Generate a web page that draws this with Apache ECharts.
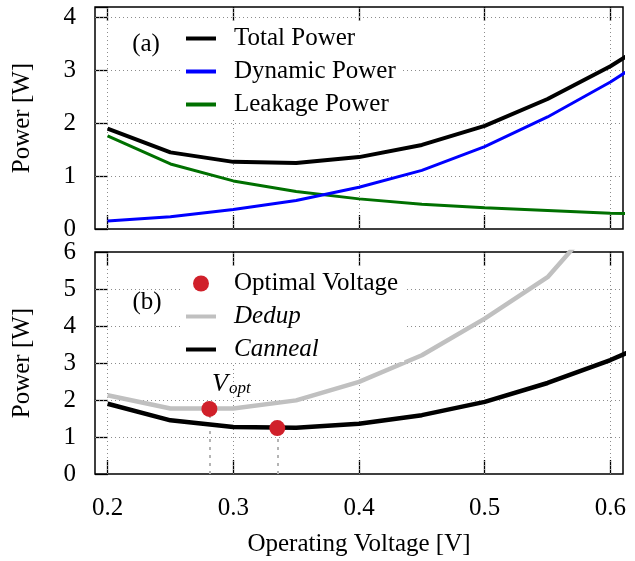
<!DOCTYPE html>
<html>
<head>
<meta charset="utf-8">
<script src="https://cdn.jsdelivr.net/npm/echarts@6/dist/echarts.min.js"></script>
<style>
  html, body { margin: 0; padding: 0; background: #fff; }
  #chart { width: 635px; height: 561px; }
</style>
</head>
<body>
<div id="chart"></div>
<script>
// Operating voltage samples [V]
const voltages = [0.2, 0.25, 0.3, 0.35, 0.4, 0.45, 0.5, 0.55, 0.6, 0.65];

// (a) power breakdown [W]
const totalPower   = [1.90, 1.45, 1.27, 1.25, 1.36, 1.59, 1.95, 2.46, 3.08, 3.82];
const dynamicPower = [0.15, 0.23, 0.37, 0.54, 0.79, 1.11, 1.56, 2.12, 2.78, 3.55];
const leakagePower = [1.76, 1.23, 0.91, 0.71, 0.57, 0.47, 0.40, 0.35, 0.30, 0.27];

// (b) per-benchmark power [W]
const dedupPower   = [2.13, 1.77, 1.77, 1.99, 2.49, 3.21, 4.20, 5.32, 7.25];
const cannealPower = [1.90, 1.45, 1.27, 1.25, 1.36, 1.59, 1.95, 2.46, 3.08, 3.82];

// Optimal operating points (Dedup, Canneal)
const optimalVoltage = [0.281, 0.335];
const optimalPower   = [1.76, 1.24];

// Tick positions
const xTicks = [0.2, 0.3, 0.4, 0.5, 0.6];
const yTicksTop = [1, 2, 3, 4];
const yTicksBottom = [1, 2, 3, 4, 5];

const FONT = '"Liberation Serif", "Times New Roman", serif';
const FS = 25;

const pair = (xs, ys) => ys.map((y, i) => [xs[i], y]);

const gridLineStyle = { type: [1, 3], color: '#8c8c8c', width: 1 };
const gridMarks = (yTicks) => ({
  silent: true,
  symbol: 'none',
  z: 1,
  animation: false,
  label: { show: false },
  emphasis: { disabled: true },
  lineStyle: gridLineStyle,
  data: xTicks.map(v => ({ xAxis: v })).concat(yTicks.map(v => ({ yAxis: v })))
});

const tickStyle = { color: '#000', width: 1.3 };
const xAxisBase = (grid, position, withLabels) => ({
  type: 'value',
  gridIndex: grid,
  position: position,
  min: 0.19,
  max: 0.61,
  axisLine: { show: false },
  splitLine: { show: false },
  axisTick: { show: true, inside: true, length: 14, lineStyle: tickStyle, customValues: xTicks },
  axisLabel: withLabels
    ? { show: true, customValues: xTicks, fontFamily: FONT, fontSize: FS, color: '#000', margin: 22,
        formatter: v => v.toFixed(1) }
    : { show: false }
});

const yAxisBase = (grid, max) => ({
  type: 'value',
  gridIndex: grid,
  min: 0,
  max: max,
  interval: 1,
  axisLine: { show: false },
  splitLine: { show: false },
  axisTick: { show: true, inside: true, length: 13, lineStyle: tickStyle },
  axisLabel: {
    fontFamily: FONT, fontSize: FS, color: '#000', margin: 19,
    formatter: v => (Math.abs(v - Math.round(v)) < 1e-6 ? String(Math.round(v)) : '')
  },
  name: 'Power [W]',
  nameLocation: 'middle',
  nameGap: 60,
  nameTextStyle: { fontFamily: FONT, fontSize: FS, color: '#000' }
});

// line-only legend entries (no marker in the middle of the sample)
const lineEntry = name => ({ name: name, itemStyle: { opacity: 0 }, lineStyle: { width: 4 } });

const legendBase = {
  orient: 'vertical',
  left: 180,
  itemWidth: 30,
  itemHeight: 16,
  itemGap: 8,
  padding: [3, 6, 0, 4],
  backgroundColor: '#fff',
  selectedMode: false,
  lineStyle: { width: 4 },
  textStyle: { fontFamily: FONT, fontSize: FS, lineHeight: 25, color: '#000', padding: [0, 0, 0, 13],
    rich: { i: { fontFamily: FONT, fontSize: FS, lineHeight: 25, fontStyle: 'italic', color: '#000' } } }
};

const option = {
  animation: false,
  backgroundColor: '#fff',
  grid: [
    { left: 95, right: 12, top: 7, height: 222, show: true, borderColor: '#000', borderWidth: 1.5, backgroundColor: 'transparent' },
    { left: 95, right: 12, top: 252, height: 222, show: true, borderColor: '#000', borderWidth: 1.5, backgroundColor: 'transparent' }
  ],
  xAxis: [
    xAxisBase(0, 'bottom', false),
    xAxisBase(0, 'top', false),
    Object.assign(xAxisBase(1, 'bottom', true), {
      name: 'Operating Voltage [V]',
      nameLocation: 'middle',
      nameGap: 58,
      nameTextStyle: { fontFamily: FONT, fontSize: FS, color: '#000' }
    }),
    xAxisBase(1, 'top', false)
  ],
  yAxis: [
    yAxisBase(0, 4.2),
    yAxisBase(1, 6)
  ],
  legend: [
    Object.assign({}, legendBase, {
      top: 23,
      data: ['Total Power', 'Dynamic Power', 'Leakage Power'].map(lineEntry)
    }),
    Object.assign({}, legendBase, {
      top: 268,
      data: [{ name: 'Optimal Voltage', icon: 'circle' }, lineEntry('Dedup'), lineEntry('Canneal')],
      formatter: name => (name === 'Optimal Voltage' ? name : '{i|' + name + '}')
    })
  ],
  graphic: [
    { type: 'text', x: 146, y: 44, style: { text: '(a)', font: FS + 'px ' + FONT, fill: '#000', align: 'center', verticalAlign: 'middle' } },
    { type: 'text', x: 147, y: 302, style: { text: '(b)', font: FS + 'px ' + FONT, fill: '#000', align: 'center', verticalAlign: 'middle' } }
  ],
  series: [
    {
      name: 'Leakage Power', type: 'line', xAxisIndex: 0, yAxisIndex: 0,
      data: pair(voltages, leakagePower), symbol: 'none', color: '#007000',
      lineStyle: { color: '#007000', width: 3 }, z: 2,
      markLine: gridMarks(yTicksTop)
    },
    {
      name: 'Dynamic Power', type: 'line', xAxisIndex: 0, yAxisIndex: 0,
      data: pair(voltages, dynamicPower), symbol: 'none', color: '#0000ff',
      lineStyle: { color: '#0000ff', width: 3 }, z: 3
    },
    {
      name: 'Total Power', type: 'line', xAxisIndex: 0, yAxisIndex: 0,
      data: pair(voltages, totalPower), symbol: 'none', color: '#000',
      lineStyle: { color: '#000', width: 4 }, z: 4
    },
    {
      name: 'Dedup', type: 'line', xAxisIndex: 2, yAxisIndex: 1,
      data: pair(voltages, dedupPower), symbol: 'none', color: '#c0c0c0',
      lineStyle: { color: '#c0c0c0', width: 4.5 }, z: 3
    },
    {
      name: 'Canneal', type: 'line', xAxisIndex: 2, yAxisIndex: 1,
      data: pair(voltages, cannealPower), symbol: 'none', color: '#000',
      lineStyle: { color: '#000', width: 4.5 }, z: 4,
      markLine: gridMarks(yTicksBottom)
    },
    {
      name: 'Optimal Voltage', type: 'scatter', xAxisIndex: 2, yAxisIndex: 1,
      symbol: 'circle', symbolSize: 16, color: '#d0202a', z: 6,
      itemStyle: { color: '#d0202a', opacity: 1 },
      data: optimalVoltage.map((v, i) => ({
        value: [v, optimalPower[i]],
        label: i === 0 ? {
          show: true, position: 'top', distance: 4, offset: [22, 0],
          formatter: '{v|V}{s|opt}',
          rich: {
            v: { fontFamily: FONT, fontSize: 26, fontStyle: 'italic', color: '#000', lineHeight: 26 },
            s: { fontFamily: FONT, fontSize: 17, fontStyle: 'italic', color: '#000', lineHeight: 17,
                 verticalAlign: 'bottom', padding: [0, 0, 0, 1] }
          }
        } : { show: false }
      })),
      markLine: {
        silent: true, symbol: 'none', z: 2, animation: false,
        label: { show: false },
        emphasis: { disabled: true },
        lineStyle: { type: [3, 5], color: '#b4b4b4', width: 2 },
        data: optimalVoltage.map((v, i) => [{ coord: [v, 0] }, { coord: [v, optimalPower[i]] }])
      }
    }
  ]
};

const chart = echarts.init(document.getElementById('chart'), null, { renderer: 'canvas' });
chart.setOption(option);
</script>
</body>
</html>
